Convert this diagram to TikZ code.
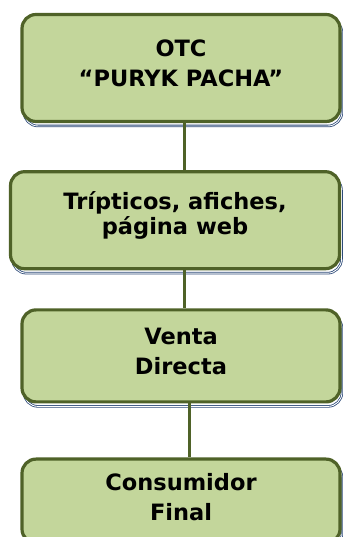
\documentclass[tikz,border=0pt]{standalone}
\usepackage{fontspec}
\setmainfont{DejaVu Sans}
\usetikzlibrary{positioning,shadows}
\definecolor{leaf}{HTML}{C3D69B}
\definecolor{bark}{HTML}{4F6228}
\definecolor{navy}{HTML}{2C4A78}
\tikzset{
  stage/.style={draw=bark,line width=3.2pt,rounded corners=14pt,fill=leaf,
    minimum width=318pt,align=center,inner sep=2pt,text depth=9pt,
    font=\fontsize{22.5}{30}\selectfont\bfseries,
    general shadow={shadow xshift=2pt,shadow yshift=-4.5pt,draw=navy,
      line width=0.8pt,double=white,double distance=0.9pt,fill=none}},
  link/.style={draw=bark,line width=3pt}}

\begin{document}
\begin{tikzpicture}[x=1pt,y=1pt]
\useasboundingbox (0,0) rectangle (342,537);

\node[stage,minimum height=107pt] (otc) at (181,469) {OTC\\``PURYK PACHA''};
\node[stage,minimum width=329pt,minimum height=97pt,text depth=15pt,below=47pt of otc,xshift=-6pt] (promo)
  {Trípticos, afiches,\\[-5pt]página web};
\node[stage,minimum height=92pt,below=38pt of promo,xshift=6pt] (venta) {Venta\\Directa};
\node[stage,minimum height=84pt,below=54pt of venta] (cons) {Consumidor\\Final};

\draw[link] ([xshift=3pt]otc.south) -- ([xshift=9pt]promo.north);
\draw[link] ([xshift=9pt]promo.south) -- ([xshift=3pt]venta.north);
\draw[link] ([xshift=8pt]venta.south) -- ([xshift=8pt]cons.north);
\end{tikzpicture}
\end{document}
